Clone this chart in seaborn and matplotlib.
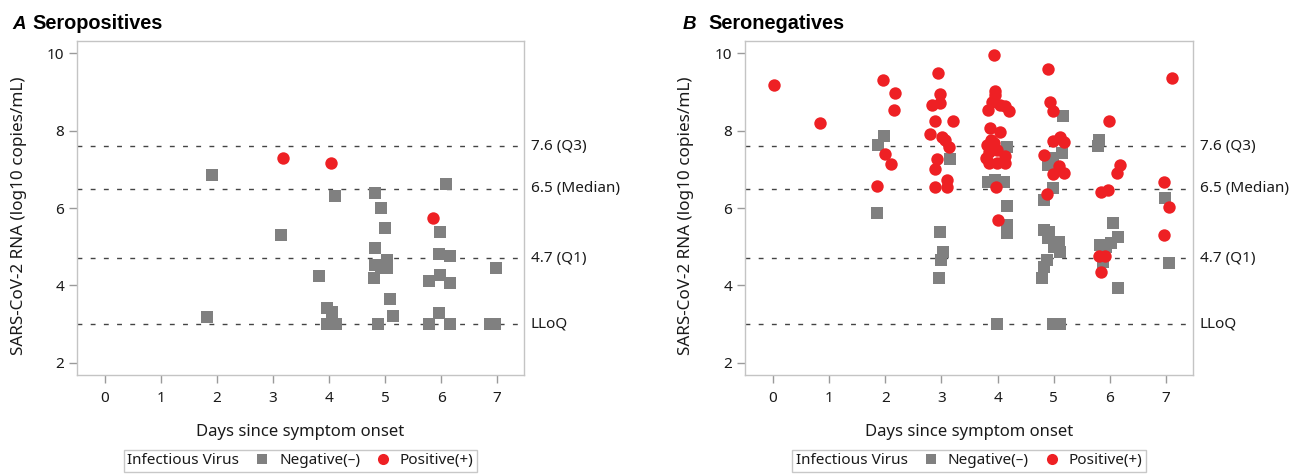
import matplotlib
matplotlib.use("Agg")
import matplotlib.pyplot as plt
import matplotlib.transforms as mtransforms
from matplotlib.lines import Line2D
import seaborn as sns
import pandas as pd

sns.set_theme(style="white")
plt.rcParams['font.family'] = ['Noto Sans', 'DejaVu Sans']

# ---------------- data ----------------
# Panel A: Seropositives
a_neg_day = [1.91, 4.10, 4.82, 6.09, 4.93, 4.99, 3.15, 5.98, 4.82, 5.97, 6.15, 5.03, 4.82,
             5.03, 4.92, 4.81, 6.98, 3.82, 5.98, 5.78, 6.16, 5.09, 3.96, 4.06, 5.14, 1.82,
             3.96, 4.13, 4.05, 4.87, 5.79, 5.97, 6.16, 6.88, 6.96]
a_neg_rna = [6.86, 6.32, 6.40, 6.62, 5.99, 5.47, 5.30, 5.37, 4.96, 4.80, 4.75, 4.66, 4.53,
             4.44, 4.44, 4.20, 4.45, 4.25, 4.27, 4.12, 4.07, 3.64, 3.41, 3.30, 3.21, 3.19,
             3.00, 3.00, 3.00, 3.00, 3.00, 3.28, 3.00, 3.00, 3.00]
a_pos_day = [3.17, 4.03, 5.86]
a_pos_rna = [7.29, 7.16, 5.74]

# Panel B: Seronegatives
b_neg_day = [1.87, 1.98, 1.85,
             3.16, 2.97, 3.03, 2.99, 2.95,
             4.17, 3.83, 3.96, 4.11, 4.16, 4.17, 4.17, 3.99,
             5.17, 5.14, 4.98, 4.89, 4.99, 4.82, 4.82, 4.92, 4.89, 5.09, 5.00, 5.11,
             4.88, 4.83, 4.79, 4.98, 5.11,
             5.81, 5.79, 6.05, 6.14, 6.02, 5.83, 5.93, 5.87, 6.14,
             6.98, 7.05]
b_neg_rna = [7.63, 7.85, 5.87,
             7.27, 5.37, 4.86, 4.66, 4.20,
             7.59, 6.66, 6.73, 6.68, 6.06, 5.56, 5.35, 3.00,
             8.37, 7.42, 7.29, 7.11, 6.53, 6.21, 5.43, 5.39, 5.22, 5.13, 5.00, 4.87,
             4.66, 4.47, 4.19, 3.00, 3.00,
             7.76, 7.60, 5.61, 5.25, 5.09, 5.05, 5.00, 4.61, 3.93,
             6.27, 4.57]
b_pos_day = [0.02, 0.83,
             1.95, 2.18, 2.15, 2.00, 2.10, 1.86,
             2.93, 2.97, 2.83, 2.97, 2.89, 3.20, 2.80, 3.01, 3.06, 3.13, 2.92, 2.89, 3.09,
             3.09, 2.89,
             3.94, 3.96, 3.95, 3.90, 3.82, 4.04, 4.14, 4.20, 3.86, 4.05, 3.88, 3.81, 3.93,
             3.99, 3.85, 3.80, 4.14, 3.85, 3.99, 4.14, 3.97, 4.00,
             4.90, 4.93, 4.99, 5.11, 4.99, 5.18, 4.82, 5.09, 4.99, 5.18, 4.88,
             5.99, 6.18, 6.13, 5.84, 5.97, 5.80, 5.91, 5.84,
             7.11, 6.96, 7.06, 6.96]
b_pos_rna = [9.17, 8.20,
             9.30, 8.97, 8.53, 7.40, 7.13, 6.58,
             9.50, 8.95, 8.66, 8.71, 8.25, 8.26, 7.91, 7.83, 7.76, 7.57, 7.27, 7.00, 6.73,
             6.55, 6.54,
             9.95, 9.03, 8.92, 8.75, 8.53, 8.66, 8.64, 8.51, 8.06, 7.97, 7.76, 7.63, 7.67,
             7.50, 7.46, 7.29, 7.35, 7.16, 7.17, 7.17, 6.54, 5.69,
             9.59, 8.74, 8.51, 7.83, 7.74, 7.72, 7.37, 7.09, 6.88, 6.91, 6.36,
             8.26, 7.11, 6.91, 6.42, 6.47, 4.76, 4.76, 4.34,
             9.37, 6.68, 6.02, 5.29]

ref_values = [7.6, 6.5, 4.7, 3.0]
ref_labels = ["7.6 (Q3)", "6.5 (Median)", "4.7 (Q1)", "LLoQ"]
x_ticks = [0, 1, 2, 3, 4, 5, 6, 7]
y_ticks = [2, 4, 6, 8, 10]
panel_letters = ["A", "B"]
panel_titles = ["Seropositives", "Seronegatives"]
x_label = "Days since symptom onset"
y_label = "SARS-CoV-2 RNA (log10 copies/mL)"
legend_title = "Infectious Virus"
legend_labels = ["Negative(\u2013)", "Positive(+)"]

NEG = "#808080"
POS = "#ee2024"
SPINE = "#c4c4c4"
TXT = "#1a1a1a"

W, H = 1302, 474
fig = plt.figure(figsize=(W / 100, H / 100), dpi=100)

axes_px = [(77, 41, 447, 334), (745, 41, 448, 334)]
ylab_x = [-0.112, -0.114]
title_px = [(12, 32), (683, 708)]

panels = [
    (a_neg_day, a_neg_rna, a_pos_day, a_pos_rna),
    (b_neg_day, b_neg_rna, b_pos_day, b_pos_rna),
]

for i, (nd, nr, pd_, pr) in enumerate(panels):
    l, t, w, h = axes_px[i]
    ax = fig.add_axes([l / W, 1 - (t + h) / H, w / W, h / H])
    ax.set_facecolor("white")

    for v in ref_values:
        ax.axhline(v, color="#444444", lw=1.0, ls=(0, (3.5, 6.0)), zorder=1)

    neg_df = pd.DataFrame({"day": nd, "rna": nr})
    pos_df = pd.DataFrame({"day": pd_, "rna": pr})
    sns.scatterplot(data=neg_df, x="day", y="rna", ax=ax, marker="s", color=NEG,
                    s=66, linewidth=0, zorder=2, legend=False)
    sns.scatterplot(data=pos_df, x="day", y="rna", ax=ax, marker="o", color=POS,
                    s=80, linewidth=0, zorder=3, legend=False)

    ax.set_xlim(-0.5, 7.48)
    ax.set_ylim(1.68, 10.32)
    ax.set_xticks(x_ticks)
    ax.set_yticks(y_ticks)
    ax.tick_params(axis="both", which="major", direction="out", length=5.8, width=1,
                   color="#9a9a9a", labelsize=11, labelcolor=TXT, bottom=True, left=True)
    ax.tick_params(axis="x", pad=6)
    ax.tick_params(axis="y", pad=3.6)
    for sp in ax.spines.values():
        sp.set_color(SPINE)
        sp.set_linewidth(1.0)
        sp.set_visible(True)

    ax.set_xlabel(x_label, fontsize=12, color=TXT)
    ax.xaxis.set_label_coords(0.5, -0.147)
    ax.set_ylabel(y_label, fontsize=12.3, color=TXT)
    ax.yaxis.set_label_coords(ylab_x[i], 0.476)

    trans = mtransforms.blended_transform_factory(ax.transAxes, ax.transData)
    for v, lab in zip(ref_values, ref_labels):
        ax.text(1.015, v, lab, transform=trans, va="center", ha="left",
                fontsize=11, color=TXT)

    # legend with title on the left
    handles = [Line2D([], [], marker="s", ls="", color=NEG, markersize=7.5, markeredgewidth=0),
               Line2D([], [], marker="o", ls="", color=POS, markersize=8, markeredgewidth=0)]
    leg = ax.legend(handles, legend_labels, title=legend_title, ncol=2, loc="center",
                    bbox_to_anchor=(0.5, -0.257), frameon=True, fontsize=11,
                    title_fontsize=11, handletextpad=0.6, columnspacing=1.0,
                    borderpad=0.25, handlelength=1.0, fancybox=False,
                    edgecolor="#c8c8c8", framealpha=1)
    leg.get_frame().set_linewidth(1.0)
    vp = leg._legend_box
    title_box, hp = vp.get_children()
    vp._children = [hp]
    hp._children.insert(0, title_box)
    for txt in leg.get_texts():
        txt.set_color(TXT)
    leg.get_title().set_color(TXT)

    lx, tx = title_px[i]
    fig.text(lx / W, 1 - 29 / H, panel_letters[i], fontsize=13.5, fontweight="bold",
             style="italic", va="baseline", ha="left", color="black",
             family=["Liberation Sans", "DejaVu Sans"])
    fig.text(tx / W, 1 - 29 / H, panel_titles[i], fontsize=14.3, fontweight="bold",
             va="baseline", ha="left", color="black",
             family=["Liberation Sans Narrow", "Liberation Sans", "DejaVu Sans"])

fig.savefig("out.png", dpi=100)
